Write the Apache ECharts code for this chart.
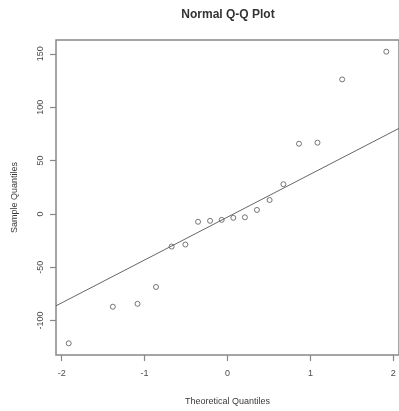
<!DOCTYPE html>
<html>
<head>
<meta charset="utf-8">
<script src="https://cdn.jsdelivr.net/npm/echarts@6/dist/echarts.min.js"></script>
<style>html,body{margin:0;padding:0;background:#fff;}#c{width:399px;height:411px;}</style>
</head>
<body>
<div id="c"></div>
<script>
// Theoretical quantiles (n = 18)
var theoretical = [-1.915, -1.383, -1.085, -0.862, -0.674, -0.508, -0.355, -0.210, -0.070,
                   0.070, 0.210, 0.355, 0.508, 0.674, 0.862, 1.085, 1.383, 1.915];
// Sample quantiles (sorted)
var sample = [-121.3, -87.0, -84.3, -68.5, -30.6, -28.7, -7.4, -6.5, -5.6,
              -3.7, -3.2, 3.7, 13.0, 27.8, 65.7, 66.7, 126.0, 152.0];
var xTicks = [-2, -1, 0, 1, 2];
var yTicks = [-100, -50, 0, 50, 100, 150];

// qqline: through first and third quartiles
function quantile7(arr, p) {
  var s = arr.slice().sort(function(a, b) { return a - b; });
  var h = (s.length - 1) * p, lo = Math.floor(h);
  return s[lo] + (h - lo) * ((s[Math.min(lo + 1, s.length - 1)]) - s[lo]);
}
var q1 = quantile7(sample, 0.25), q3 = quantile7(sample, 0.75);
var z = 0.6744898;
var slope = (q3 - q1) / (2 * z);
var intercept = q1 + z * slope;

var xr = [Math.min.apply(null, theoretical), Math.max.apply(null, theoretical)];
var yr = [Math.min.apply(null, sample), Math.max.apply(null, sample)];
var xpad = (xr[1] - xr[0]) * 0.04, ypad = (yr[1] - yr[0]) * 0.04;
var xmin = xr[0] - xpad, xmax = xr[1] + xpad;
var ymin = yr[0] - ypad, ymax = yr[1] + ypad;

var pts = theoretical.map(function(x, i) { return [x, sample[i]]; });
var lineData = [[xmin, intercept + slope * xmin], [xmax, intercept + slope * xmax]];

var chart = echarts.init(document.getElementById('c'), null, {renderer: 'canvas'});
var textColor = '#3a3a3a';
chart.setOption({
  animation: false,
  backgroundColor: '#fff',
  graphic: [{
    type: 'text', x: 228, y: 15,
    style: {text: 'Normal Q-Q Plot', fontFamily: 'Liberation Sans, Arial, sans-serif',
            fontSize: 12, fontWeight: 'bold', fill: '#333', align: 'center', verticalAlign: 'middle'}
  }],
  grid: {left: 56, right: -2, top: 40, bottom: 52, show: true, borderColor: '#888', borderWidth: 1.5, backgroundColor: 'transparent'},
  xAxis: {
    type: 'value', min: xmin, max: xmax,
    name: 'Theoretical Quantiles', nameLocation: 'middle', nameGap: 42,
    nameTextStyle: {fontFamily: 'Liberation Sans, Arial, sans-serif', fontSize: 9, color: textColor},
    axisLine: {show: false, onZero: false},
    splitLine: {show: false},
    axisTick: {show: true, length: 6, lineStyle: {color: '#888', width: 1.2}, customValues: xTicks},
    axisLabel: {fontFamily: 'Liberation Sans, Arial, sans-serif', fontSize: 9, color: '#4a4a4a', margin: 14, customValues: xTicks}
  },
  yAxis: {
    type: 'value', min: ymin, max: ymax,
    name: 'Sample Quantiles', nameLocation: 'middle', nameGap: 37, nameRotate: 90,
    nameTextStyle: {fontFamily: 'Liberation Sans, Arial, sans-serif', fontSize: 9, color: textColor},
    axisLine: {show: false, onZero: false},
    splitLine: {show: false},
    axisTick: {show: true, length: 6, lineStyle: {color: '#888', width: 1.2}, customValues: yTicks},
    axisLabel: {fontFamily: 'Liberation Sans, Arial, sans-serif', fontSize: 9, color: '#4a4a4a', margin: 11, rotate: 90, customValues: yTicks}
  },
  series: [{
    type: 'scatter', data: pts, symbol: 'circle', symbolSize: 5,
    itemStyle: {color: '#fff', borderColor: '#555', borderWidth: 1}
  }, {
    type: 'line', data: lineData, symbol: 'none', silent: true,
    lineStyle: {color: '#666', width: 1}
  }]
});
</script>
</body>
</html>
